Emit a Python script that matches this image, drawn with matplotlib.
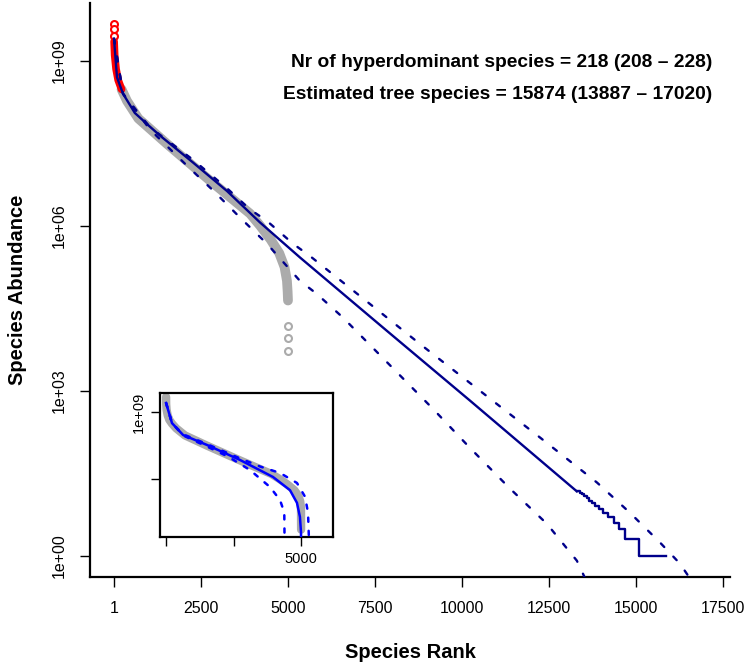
import numpy as np
import matplotlib.pyplot as plt

plt.rcParams['font.family'] = ['Liberation Sans', 'DejaVu Sans']
plt.rcParams['lines.scale_dashes'] = False

hyper_rank = [1, 2, 3]
hyper_log = [9.67, 9.58, 9.45]
red_rank = [4, 20, 60, 120, 218]
red_log = [9.35, 9.1, 8.85, 8.65, 8.48]
obs_rank = [218, 373, 700, 1520, 2760, 3910, 4200, 4500, 4750, 4900, 4970, 4990, 5000]
obs_log = [8.48, 8.27, 7.95, 7.49, 6.82, 6.22, 6.0, 5.75, 5.5, 5.25, 5.0, 4.8, 4.64]
tail_rank = [5001, 5002, 5003]
tail_log = [4.18, 3.96, 3.73]

# fitted curve and confidence band (log10)
fit_rank = [1, 86, 260, 600, 1035, 1320, 2270, 3250, 4195, 5350, 7840, 10230, 13300]
fit_log = [9.4, 8.7, 8.4, 8.05, 7.8, 7.64, 7.15, 6.63, 6.06, 5.42, 4.09, 2.82, 1.17]
stair_rank = [13300, 13380, 13450, 13520, 13590, 13660, 13740, 13830, 13930, 14050, 14200, 14380, 14500, 14680, 15090, 15874]
stair_abund = [15, 14, 13, 12, 11, 10, 9, 8, 7, 6, 5, 4, 3, 2, 1, 1]
upper_rank = [1, 260, 1035, 2270, 3250, 3900, 4390, 5150, 5630, 8793, 11000, 12240, 13880, 14828, 15690, 16264, 16494, 16560]
upper_log = [9.4, 8.4, 7.79, 7.2, 6.68, 6.3, 6.09, 5.67, 5.45, 3.85, 2.76, 2.15, 1.33, 0.78, 0.24, -0.145, -0.36, -0.45]
lower_rank = [1, 260, 1035, 2100, 2850, 3620, 4400, 5340, 5830, 6580, 8793, 9167, 10230, 11380, 12440, 13300, 13500, 13560]
lower_log = [9.4, 8.4, 7.75, 7.09, 6.64, 6.15, 5.67, 5.0, 4.76, 4.33, 2.91, 2.67, 1.96, 1.22, 0.58, -0.09, -0.36, -0.45]

# inset curves (log10)
ins_fit_rank = [1, 220, 630, 1520, 2740, 3960, 4590, 4850, 4960, 5000, 5000]
ins_fit_log = [9.4, 8.5, 7.97, 7.52, 6.85, 6.09, 5.5, 4.93, 4.3, 3.6, 2.0]
ins_low_rank = [1, 220, 630, 1520, 2300, 3110, 3850, 4220, 4380, 4400]
ins_low_log = [9.4, 8.5, 7.95, 7.45, 7.0, 6.4, 5.64, 5.06, 4.5, 2.0]
ins_up_rank = [1, 220, 630, 1520, 2740, 3500, 4220, 4850, 5150, 5260, 5330]
ins_up_log = [9.4, 8.5, 8.0, 7.56, 6.92, 6.55, 6.27, 5.82, 5.2, 4.48, 2.0]

x_ticks = [1, 2500, 5000, 7500, 10000, 12500, 15000, 17500]
y_ticks = [1e0, 1e3, 1e6, 1e9]
y_labels = ['1e+00', '1e+03', '1e+06', '1e+09']

navy = '#00008B'
grey = '#ABABAB'

def p(v):
    return 10 ** np.array(v, dtype=float)

fig = plt.figure(figsize=(7.5, 6.67), dpi=100)
ax = fig.add_axes([90 / 750, 90 / 667, 640 / 750, 574 / 667])

ax.plot(obs_rank, p(obs_log), color=grey, lw=7, solid_capstyle='round', solid_joinstyle='round', zorder=1)
ax.plot(tail_rank, p(tail_log), 'o', mfc='none', mec=grey, ms=5, mew=1.5, zorder=1)
ax.plot(red_rank, p(red_log), color='red', lw=5.5, solid_capstyle='round', zorder=2)
ax.plot(hyper_rank, p(hyper_log), 'o', mfc='white', mec='red', ms=5, mew=1.5, zorder=2)

ax.plot(fit_rank, p(fit_log), color=navy, lw=1.7, zorder=3)
ax.plot(stair_rank, stair_abund, color=navy, lw=1.7, drawstyle='steps-post', zorder=3)
ax.plot(upper_rank, p(upper_log), color=navy, lw=1.7, dashes=(3.5, 9.5), dash_capstyle='round', zorder=3)
ax.plot(lower_rank, p(lower_log), color=navy, lw=1.7, dashes=(3.5, 9.5), dash_capstyle='round', zorder=3)

ax.set_yscale('log')
ax.set_xlim(-689, 17701)
ax.set_ylim(10 ** -0.387, 10 ** 10.05)
ax.set_xticks(x_ticks)
ax.set_xticklabels([str(t) for t in x_ticks])
ax.set_yticks(y_ticks)
ax.set_yticklabels(y_labels)
ax.yaxis.set_minor_locator(plt.NullLocator())
ax.tick_params(axis='both', length=7.5, width=1, labelsize=11.5)
ax.tick_params(axis='x', pad=10)
ax.tick_params(axis='y', pad=9)
for lab in ax.get_yticklabels():
    lab.set_rotation(90)
    lab.set_va('center')

for s in ['top', 'right']:
    ax.spines[s].set_visible(False)
for s in ['left', 'bottom']:
    ax.spines[s].set_linewidth(1.6)

ax.set_xlabel('Species Rank', fontsize=14.5, fontweight='bold')
ax.xaxis.set_label_coords(0.5, -75 / 574)
ax.xaxis.label.set_va('center')
ax.set_ylabel('Species Abundance', fontsize=14.5, fontweight='bold')
ax.yaxis.set_label_coords(-72 / 640, 0.5)
ax.yaxis.label.set_va('center')

ax.text(0.973, 0.897, 'Nr of hyperdominant species = 218 (208 \u2013 228)',
        transform=ax.transAxes, ha='right', va='center', fontsize=13.8, fontweight='bold')
ax.text(0.973, 0.840, 'Estimated tree species = 15874 (13887 \u2013 17020)',
        transform=ax.transAxes, ha='right', va='center', fontsize=13.8, fontweight='bold')

# inset
axin = fig.add_axes([160 / 750, 130 / 667, 173 / 750, 144 / 667])
all_rank = hyper_rank + red_rank + obs_rank + tail_rank
all_log = hyper_log + red_log + obs_log + tail_log
axin.plot(all_rank, p(all_log), color=grey, lw=6, solid_capstyle='round', solid_joinstyle='round', zorder=1)
axin.plot(ins_fit_rank, p(ins_fit_log), color='#0000FF', lw=1.8, zorder=3)
axin.plot(ins_low_rank, p(ins_low_log), color='#0000FF', lw=1.8, dashes=(3, 6.5), dash_capstyle='round', zorder=3)
axin.plot(ins_up_rank, p(ins_up_log), color='#0000FF', lw=1.8, dashes=(3, 6.5), dash_capstyle='round', zorder=3)
axin.set_yscale('log')
axin.set_xlim(-225, 6185)
axin.set_ylim(10 ** 3.4, 10 ** 9.85)
axin.set_xticks([1, 2500, 5000])
axin.set_xticklabels(['', '', '5000'])
axin.set_yticks([1e6, 1e9])
axin.set_yticklabels(['', '1e+09'])
axin.yaxis.set_minor_locator(plt.NullLocator())
axin.tick_params(axis='both', length=6.5, width=1, labelsize=10.5, pad=4)
for lab in axin.get_yticklabels():
    lab.set_rotation(90)
    lab.set_va('center')
for s in axin.spines.values():
    s.set_linewidth(1.6)

fig.savefig('out.png', dpi=100)
